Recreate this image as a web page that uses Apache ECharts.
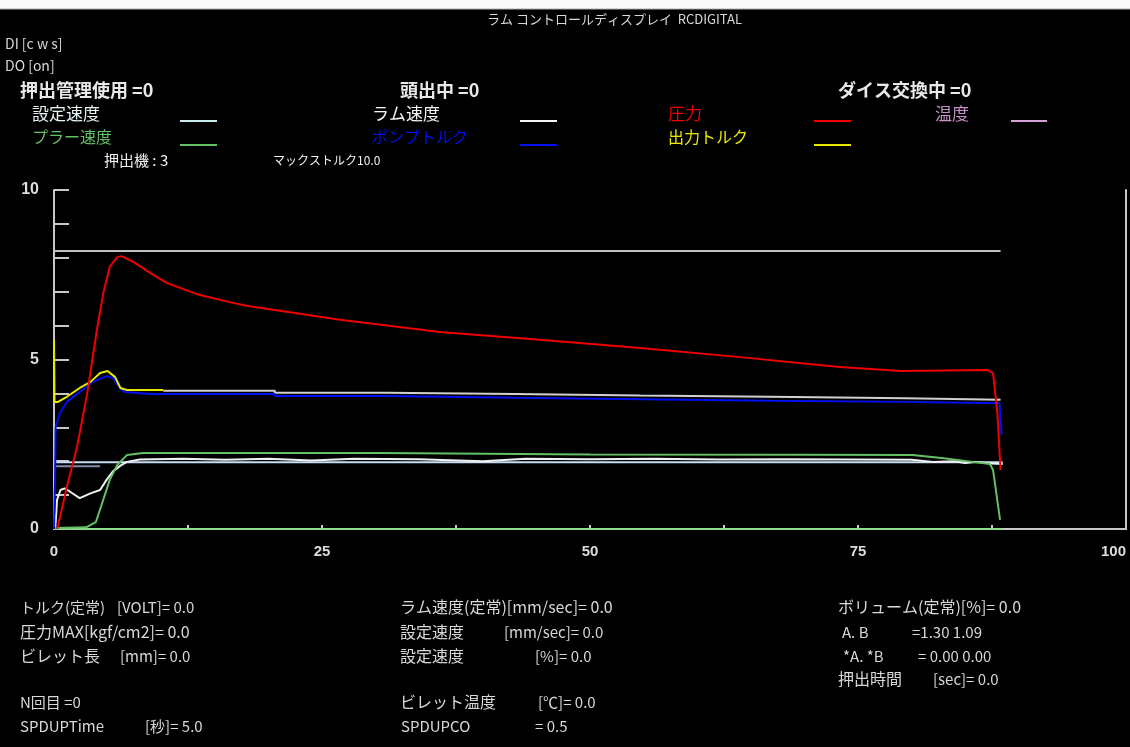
<!DOCTYPE html>
<html>
<head>
<meta charset="utf-8">
<script src="https://cdn.jsdelivr.net/npm/echarts@6/dist/echarts.min.js"></script>
<style>
html,body{margin:0;padding:0;background:#000;}
#chart{width:1130px;height:747px;}
</style>
</head>
<body>
<div id="chart"></div>
<script>
// 軸ラベル
const xLabels=[0,25,50,75,100];
const yLabels=[0,5,10];

// 波形データ [時間, 値]
const kijun=[[0,8.2],[88.3,8.2]];//上限ライン
const zeroLine=[[0,0],[88.5,0]];
const setSpeedSub=[[0,1.85],[4.3,1.85]];
const setSpeed=[[0,1.97],[88.5,1.97]];//設定速度
const ramSpeed=[[0.1,0],[0.2,0.4],[0.28,0.85],[0.6,1.15],[1.0,1.2],[1.5,1.1],[2.4,0.91],[3.4,1.05],[4.3,1.15],[4.9,1.45],[5.5,1.7],[6.2,1.87],[6.8,1.98],[8,2.05],[12,2.07],[16,2.04],[20,2.07],[24,2.02],[28,2.07],[34,2.06],[40,2.0],[44,2.07],[50,2.06],[56,2.07],[62,2.05],[68,2.06],[74,2.05],[80,2.04],[82,1.98],[84,2.0],[85,1.95],[86,1.98],[87.5,1.93],[88.5,1.92]];//ラム速度
const pullerSpeed=[[0,0.03],[3.0,0.05],[3.9,0.2],[4.5,0.77],[5.2,1.45],[5.9,1.89],[6.8,2.18],[8.3,2.24],[20,2.24],[30.4,2.24],[30.5,2.2],[50,2.2],[70,2.19],[80.1,2.18],[83,2.09],[85.7,1.98],[87.3,1.92],[87.6,1.74],[88.25,0.27]];//プラー速度
const outTorque=[[0,5.6],[0.05,3.75],[0.37,3.75],[1.2,3.9],[2.4,4.16],[3.4,4.34],[4.3,4.6],[5.0,4.66],[5.7,4.48],[6.2,4.16],[6.8,4.1],[10.2,4.1]];//出力トルク
const torqueRef=[[10.2,4.08],[20.6,4.08],[20.6,4.02],[31,4.02],[31,3.98],[43,3.98],[43,3.94],[54.7,3.94],[54.7,3.9],[66.8,3.9],[66.8,3.86],[79.4,3.86],[79.4,3.81],[88.3,3.81]];
const pumpTorque=[[0,0],[0.1,1.5],[0.15,3.0],[0.56,3.42],[1.2,3.75],[2.4,4.04],[3.6,4.34],[4.9,4.51],[5.5,4.45],[6.2,4.13],[6.6,4.04],[9,3.98],[20.6,3.98],[20.6,3.92],[31,3.92],[31,3.87],[43,3.87],[43,3.83],[54.7,3.83],[54.7,3.78],[66.8,3.78],[66.8,3.75],[79.4,3.75],[79.4,3.71],[88.2,3.71],[88.4,2.77]];//ポンプトルク
const pressure=[[0.3,0],[0.56,0.35],[1.2,1.24],[2.15,2.42],[3.1,4.0],[4.0,5.87],[4.6,6.96],[5.2,7.73],[5.9,8.02],[6.3,8.05],[7.4,7.88],[9,7.55],[10.5,7.26],[13.6,6.9],[16.7,6.67],[18.1,6.58],[26.7,6.17],[36,5.81],[45.3,5.58],[54.7,5.34],[64,5.07],[73.3,4.78],[79,4.66],[87.1,4.69],[87.6,4.6],[88,3.42],[88.3,1.74]];//圧力

const chart=echarts.init(document.getElementById('chart'));
const JP='"Noto Sans CJK JP"';

function txt(x,y,s,color,font){
  return {type:'text',x:x,y:y,style:{text:s,fill:color,font:font,verticalAlign:'middle'}};
}
function seg(x1,x2,y,color){
  return {type:'line',shape:{x1:x1,y1:y,x2:x2,y2:y},style:{stroke:color,lineWidth:2}};
}
function line(name,data,color,width){
  return {name:name,type:'line',data:data,showSymbol:false,animation:false,
    lineStyle:{color:color,width:width||2},itemStyle:{color:color}};
}

const f13='13px '+JP, f14='14px '+JP, f15='15px '+JP, f16='16px '+JP, f17='17px '+JP, fb='bold 18px '+JP;
const gray='#d8d8d8';

const option={
  backgroundColor:'#000',
  animation:false,
  grid:{left:54,right:4,top:190,bottom:218},
  xAxis:{
    type:'value',min:0,max:100,interval:12.5,
    axisLine:{lineStyle:{color:'#c8c8c8',width:2}},
    axisTick:{inside:true,length:4,lineStyle:{color:'#c8c8c8',width:2}},
    splitLine:{show:false},
    axisLabel:{color:'#dcdcdc',fontWeight:'bold',fontSize:15,fontFamily:'Liberation Sans',margin:15,alignMaxLabel:'right',
      formatter:v=>xLabels.indexOf(v)>=0?String(v):''}
  },
  yAxis:[{
    type:'value',min:0,max:10,interval:1,
    axisLine:{lineStyle:{color:'#c8c8c8',width:2}},
    axisTick:{inside:true,length:15,lineStyle:{color:'#c8c8c8',width:2}},
    splitLine:{show:false},
    axisLabel:{color:'#dcdcdc',fontWeight:'bold',fontSize:16,fontFamily:'Liberation Sans',margin:15,
      formatter:v=>yLabels.indexOf(v)>=0?String(v):''}
  },{
    type:'value',min:0,max:10,position:'right',
    axisLine:{show:true,lineStyle:{color:'#c8c8c8',width:2}},
    axisTick:{show:false},axisLabel:{show:false},splitLine:{show:false}
  }],
  series:[
    line('基準',kijun,'#c0c0c0',2),
    line('',zeroLine,'#8fdc8f',2),
    line('',setSpeedSub,'#7f8fa8',2),
    line('設定速度',setSpeed,'#c4dcf4',2),
    line('ラム速度',ramSpeed,'#f0f0f0',2),
    line('プラー速度',pullerSpeed,'#64c064',2),
    line('',torqueRef,'#d0d0d0',2),
    line('ポンプトルク',pumpTorque,'#0010f0',2),
    line('出力トルク',outTorque,'#e8e800',2),
    line('圧力',pressure,'#f00000',2)
  ],
  graphic:[
    {type:'rect',shape:{x:0,y:0,width:1130,height:9},style:{fill:'#fafafa'}},
    {type:'line',shape:{x1:0,y1:9,x2:1130,y2:9},style:{stroke:'#b0b0b0',lineWidth:1}},
    txt(487,19,'ラム コントロールディスプレイ  RCDIGITAL',gray,f13),
    txt(5,44,'DI [c w s]',gray,f14),
    txt(5,66,'DO [on]',gray,f14),
    txt(20,90,'押出管理使用 =0','#e8e8e8',fb),
    txt(400,90,'頭出中 =0','#e8e8e8',fb),
    txt(838,90,'ダイス交換中 =0','#e8e8e8',fb),
    txt(32,114,'設定速度','#e4f4f4',f17),
    seg(180,217,121,'#c8ecec'),
    txt(372,114,'ラム速度','#f4f4f4',f17),
    seg(520,557,121,'#f4f4f4'),
    txt(668,114,'圧力','#f00000',f17),
    seg(814,851,121,'#f00000'),
    txt(935,114,'温度','#c890c8',f17),
    seg(1011,1047,121,'#d8a0d8'),
    txt(32,137,'プラー速度','#64c064',f16),
    seg(180,217,145,'#64c064'),
    txt(372,137,'ポンプトルク','#0010f0',f16),
    seg(520,557,145,'#0010f0'),
    txt(668,137,'出力トルク','#e8e800',f16),
    seg(814,851,145,'#e8e800'),
    txt(104,160,'押出機 : 3','#f0f0f0',f15),
    txt(273,160,'マックストルク10.0','#f0f0f0','12px '+JP),

    txt(20,607,'トルク(定常)',gray,f15),
    txt(117,607,'[VOLT]= 0.0',gray,f15),
    txt(20,632,'圧力MAX[kgf/cm2]= 0.0',gray,f16),
    txt(20,656,'ビレット長',gray,f16),
    txt(120,656,'[mm]= 0.0',gray,f15),
    txt(20,702,'N回目 =0',gray,f15),
    txt(20,726,'SPDUPTime',gray,f15),
    txt(145,726,'[秒]= 5.0',gray,f15),

    txt(400,607,'ラム速度(定常)[mm/sec]= 0.0',gray,f16),
    txt(400,632,'設定速度',gray,f16),
    txt(504,632,'[mm/sec]= 0.0',gray,f15),
    txt(400,656,'設定速度',gray,f16),
    txt(535,656,'[%]= 0.0',gray,f15),
    txt(400,702,'ビレット温度',gray,f16),
    txt(538,702,'[℃]= 0.0',gray,f15),
    txt(401,726,'SPDUPCO',gray,f15),
    txt(535,726,'= 0.5',gray,f15),

    txt(838,607,'ボリューム(定常)[%]= 0.0',gray,f16),
    txt(842,632,'A. B',gray,f15),
    txt(912,632,'=1.30 1.09',gray,f15),
    txt(843,656,'*A. *B',gray,f15),
    txt(918,656,'= 0.00 0.00',gray,f15),
    txt(838,679,'押出時間',gray,f16),
    txt(933,679,'[sec]= 0.0',gray,f15)
  ]
};
chart.setOption(option);
</script>
</body>
</html>
